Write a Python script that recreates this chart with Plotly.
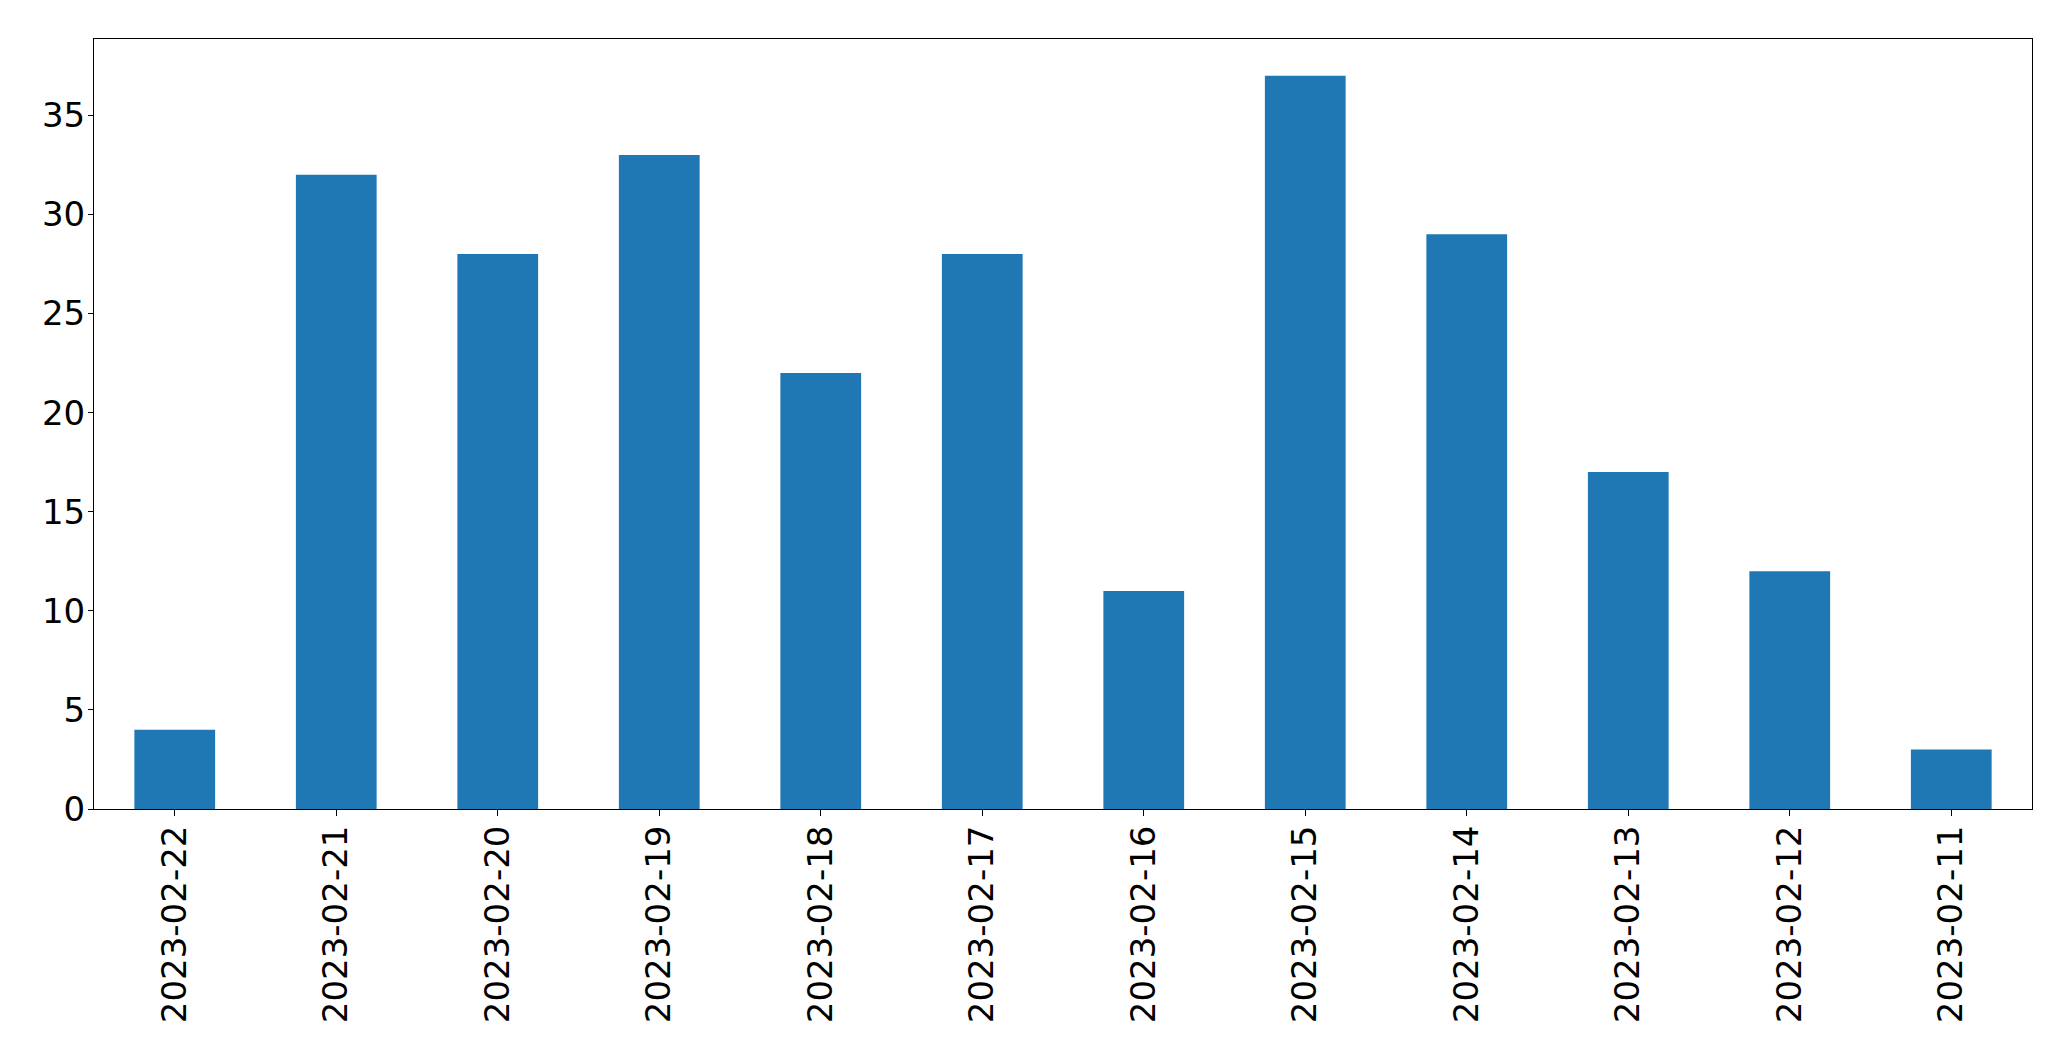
import plotly.graph_objects as go

dates = ["2023-02-22", "2023-02-21", "2023-02-20", "2023-02-19", "2023-02-18", "2023-02-17",
         "2023-02-16", "2023-02-15", "2023-02-14", "2023-02-13", "2023-02-12", "2023-02-11"]
counts = [4, 32, 28, 33, 22, 28, 11, 37, 29, 17, 12, 3]
y_ticks = [0, 5, 10, 15, 20, 25, 30, 35]

fig = go.Figure(go.Bar(x=dates, y=counts, width=0.5, marker=dict(color="#1f77b4", line=dict(width=0))))

font = dict(family="DejaVu Sans", size=34, color="black")
fig.update_layout(
    width=2071, height=1061,
    margin=dict(l=94, r=39, t=39, b=252, autoexpand=False),
    paper_bgcolor="white", plot_bgcolor="white",
    font=font, showlegend=False,
)
fig.update_xaxes(type="category", range=[-0.5, len(dates) - 0.5], tickangle=-90,
                 ticks="outside", ticklen=6, tickwidth=1, tickcolor="black",
                 showline=True, linecolor="black", linewidth=1, mirror=True,
                 showgrid=False, zeroline=False, tickfont=font, automargin=False,
                 ticklabelstandoff=-4)
fig.update_yaxes(range=[0, max(counts) * 1.05], tickvals=y_ticks,
                 ticks="outside", ticklen=5, tickwidth=1, tickcolor="black",
                 showline=True, linecolor="black", linewidth=1, mirror=True,
                 showgrid=False, zeroline=False, tickfont=font, automargin=False,
                 ticklabelstandoff=-4)

fig.write_html("out.html", config={"displayModeBar": False},
               post_script="document.body.style.margin='0';document.body.style.overflow='hidden';")
